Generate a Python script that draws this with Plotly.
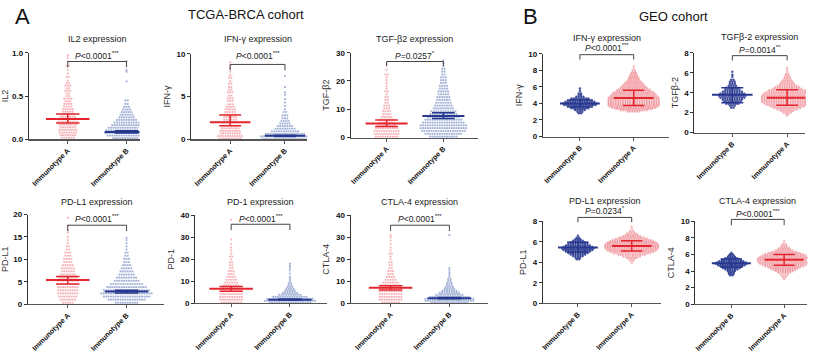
import numpy as np
import plotly.graph_objects as go

W, H = 824, 354
FONT = "Arial, Liberation Sans, sans-serif"

TCGA_CATS = ["Immunotype A", "Immunotype B"]
GEO_CATS = ["Immunotype B", "Immunotype A"]

IL2_A_LEVELS = [0.02,0.05,0.08,0.11,0.14,0.17,0.20,0.23,0.26,0.29,0.32,0.35,0.38,0.41,0.44,0.47,0.50,0.53,0.56,0.59,0.62,0.65,0.68,0.72,0.76,0.80,0.85,0.90,0.94,0.97]
IL2_A_COUNTS = [6,7,8,8,7,8,9,8,7,6,5,5,4,4,3,4,2,2,3,2,3,2,1,2,1,1,2,1,1,1]
IL2_B_LEVELS = [0.015,0.045,0.075,0.105,0.135,0.165,0.195,0.225,0.255,0.285,0.315,0.345,0.375,0.41,0.45,0.67,0.78,0.80,0.90]
IL2_B_COUNTS = [12,17,19,18,16,13,11,9,7,6,5,4,3,2,2,1,1,1,1]
IL2_MEAN = [0.235, 0.085]
IL2_LOW = [0.19, 0.075]
IL2_HIGH = [0.295, 0.10]

IFN_A_LEVELS = [0.1,0.4,0.7,1.0,1.3,1.6,2.0,2.3,2.6,2.9,3.2,3.5,3.8,4.1,4.5,4.8,5.1,5.5,5.8,6.1,6.5,6.8,7.2,7.5,7.9,8.3,8.6,9.0]
IFN_A_COUNTS = [10,11,9,9,8,8,7,6,6,5,5,5,4,3,3,3,2,3,2,2,2,1,2,1,1,1,1,1]
IFN_B_LEVELS = [0.05,0.35,0.65,0.95,1.25,1.55,1.85,2.15,2.45,2.8,3.2,3.5,3.9,4.3,4.7,5.2,5.5,6.1,7.4]
IFN_B_COUNTS = [20,21,17,12,9,7,5,4,3,3,2,1,1,1,1,1,1,1,1]
IFN_MEAN = [2.0, 0.42]
IFN_LOW = [1.6, 0.35]
IFN_HIGH = [2.85, 0.5]

TGF_A_LEVELS = [0.3,1.3,2.3,3.3,4.3,5.3,6.3,7.3,8.3,9.3,10.3,11.3,12.3,13.3,14.3,15.3,16.3,17.3,18.3,19.3,20.3,21.3,22.3,24,26]
TGF_A_COUNTS = [10,11,11,10,8,7,6,5,4,4,3,3,2,2,2,1,2,1,1,1,1,1,2,1,1]
TGF_B_LEVELS = [0.3,1.3,2.3,3.3,4.3,5.3,6.3,7.3,8.3,9.3,10.3,11.3,12.3,13.3,14.3,15.3,16.3,17.3,18.3,19.3,20.3,21.3,22.3,23.3,24.3,25.3,26.3,27.3]
TGF_B_COUNTS = [12,16,19,20,20,18,16,14,12,11,9,8,7,6,6,5,5,4,4,3,3,3,2,2,2,1,1,1]
TGF_MEAN = [5.0, 7.6]
TGF_LOW = [3.9, 6.7]
TGF_HIGH = [6.2, 8.8]

PDL1_A_LEVELS = [0.3,1.0,1.7,2.4,3.1,3.8,4.5,5.2,5.9,6.6,7.3,8.0,8.7,9.4,10.1,10.8,11.5,12.2,12.9,13.6,14.3,15.0,16.0,16.6,17.5,19.3]
PDL1_A_COUNTS = [5,7,8,9,9,9,9,9,8,7,6,6,5,4,4,3,3,2,2,1,1,1,1,1,1,1]
PDL1_B_LEVELS = [0.3,1.0,1.7,2.4,3.1,3.8,4.5,5.2,5.9,6.6,7.3,8.0,8.7,9.4,10.1,10.8,11.5,12.2,12.9,13.6,14.3,14.8]
PDL1_B_COUNTS = [10,16,20,22,20,17,14,11,9,7,6,5,4,3,3,2,2,1,1,1,1,1]
PDL1_MEAN = [5.4, 2.8]
PDL1_LOW = [4.5, 2.5]
PDL1_HIGH = [6.2, 3.1]

PD1_A_LEVELS = [0.3,1.6,2.9,4.2,5.5,6.8,8.1,9.4,10.7,12.0,13.3,14.6,16.0,17.3,18.6,20.0,21.3,22.6,24.0,25.3,27.0,29.0,38.0]
PD1_A_COUNTS = [9,10,10,10,9,8,7,6,5,4,3,3,2,2,2,1,2,1,1,1,1,1,1]
PD1_B_LEVELS = [0.2,1.1,2.0,2.9,3.8,4.7,5.6,6.5,7.4,8.3,9.2,10.1,11.0,12.0,13.5,15.0,16.0,17.0,18.0]
PD1_B_COUNTS = [18,22,20,15,10,7,5,4,3,2,2,1,1,1,1,1,1,1,1]
PD1_MEAN = [6.6, 1.6]
PD1_LOW = [5.5, 1.4]
PD1_HIGH = [7.6, 1.9]

CTLA_A_LEVELS = [0.3,1.6,2.9,4.2,5.5,6.8,8.1,9.4,10.7,12.0,13.3,14.6,16.0,17.3,18.6,20.0,21.3,22.6,24.0,25.3,27.0,28.5,30.0,31.0]
CTLA_A_COUNTS = [8,10,10,10,10,10,8,7,5,4,3,3,2,2,2,1,1,2,1,1,1,1,1,1]
CTLA_B_LEVELS = [0.2,1.1,2.0,2.9,3.8,4.7,5.6,6.5,7.4,8.3,9.2,10.1,11.0,12.0,13.0,14.0,15.0,16.0,31.0]
CTLA_B_COUNTS = [16,21,21,17,12,9,7,5,4,3,3,2,2,1,1,1,1,1,1]
CTLA_MEAN = [7.0, 2.3]
CTLA_LOW = [6.0, 2.0]
CTLA_HIGH = [8.0, 2.6]

GIFN_B_LEVELS = [2.8,3.0,3.2,3.4,3.6,3.8,4.0,4.2,4.4,4.6,4.8,5.0,5.2,5.5,5.8]
GIFN_B_COUNTS = [2,3,5,8,11,14,15,13,11,8,4,2,2,1,1]
GIFN_A_LEVELS = [3.0,3.15,3.3,3.45,3.6,3.75,3.9,4.05,4.2,4.35,4.5,4.65,4.8,4.95,5.1,5.25,5.4,5.55,5.7,5.85,6.0,6.15,6.3,6.45,6.6,6.75,6.9,7.05,7.2,7.35,7.5,7.65,7.8,8.0,8.2,8.5]
GIFN_A_COUNTS = [6,12,16,19,21,22,22,22,22,22,22,22,21,20,19,18,17,15,14,12,11,10,9,8,7,6,5,5,4,4,3,3,2,2,1,1]
GIFN_MEAN = [4.0, 4.65]
GIFN_LOW = [3.6, 3.75]
GIFN_HIGH = [4.4, 5.6]

GTGF_B_LEVELS = [2.5,2.7,2.9,3.1,3.3,3.5,3.7,3.9,4.1,4.3,4.5,4.7,4.9,5.1,5.3,5.6,5.8,6.1]
GTGF_B_COUNTS = [2,3,6,8,9,11,12,11,9,7,6,4,3,3,2,1,1,1]
GTGF_A_LEVELS = [1.7,1.85,2.0,2.15,2.3,2.45,2.6,2.75,2.9,3.05,3.2,3.35,3.5,3.65,3.8,3.95,4.1,4.25,4.4,4.55,4.7,4.85,5.0,5.15,5.3,5.45,5.6,5.75,5.9,6.1,6.3,6.5]
GTGF_A_COUNTS = [1,2,4,6,9,12,15,18,20,22,22,22,22,22,21,20,18,16,13,11,9,7,6,5,4,3,3,2,2,1,1,1]
GTGF_MEAN = [3.8, 3.5]
GTGF_LOW = [3.0, 2.75]
GTGF_HIGH = [4.5, 4.3]

GPDL1_B_LEVELS = [4.3,4.45,4.6,4.75,4.9,5.05,5.2,5.35,5.5,5.65,5.8,5.95,6.1,6.25,6.4,6.6]
GPDL1_B_COUNTS = [2,3,5,7,9,11,13,14,13,11,9,7,5,3,2,1]
GPDL1_A_LEVELS = [3.9,4.1,4.25,4.4,4.55,4.7,4.85,5.0,5.12,5.24,5.36,5.48,5.6,5.72,5.84,5.96,6.08,6.2,6.32,6.44,6.56,6.68,6.8,6.95,7.1,7.3,7.5]
GPDL1_A_COUNTS = [1,2,3,5,8,12,16,19,21,22,23,23,23,23,22,21,19,17,14,11,8,6,5,3,2,1,1]
GPDL1_MEAN = [5.45, 5.6]
GPDL1_LOW = [5.0, 5.1]
GPDL1_HIGH = [5.95, 6.1]

GCTLA_B_LEVELS = [3.5,3.67,3.84,4.0,4.2,4.37,4.54,4.7,4.87,5.04,5.2,5.37,5.54,5.7,5.87,6.04,6.2]
GCTLA_B_COUNTS = [2,3,3,4,6,8,10,12,14,13,11,9,6,4,3,2,1]
GCTLA_A_LEVELS = [3.0,3.2,3.4,3.6,3.8,3.95,4.1,4.25,4.4,4.55,4.7,4.85,5.0,5.15,5.3,5.45,5.6,5.75,5.9,6.05,6.2,6.35,6.5,6.65,6.8,6.95,7.1,7.3,7.6]
GCTLA_A_COUNTS = [1,2,3,4,6,8,10,12,14,17,19,21,22,23,23,23,22,21,19,17,14,11,8,6,5,3,3,2,1]
GCTLA_MEAN = [4.95, 5.35]
GCTLA_LOW = [4.45, 4.7]
GCTLA_HIGH = [5.45, 6.0]

PANEL_TITLES = ["IL2 expression", "IFN-γ expression", "TGF-β2 expression",
                "PD-L1 expression", "PD-1 expression", "CTLA-4 expression",
                "IFN-γ expression", "TGFβ-2 expression", "PD-L1 expression", "CTLA-4 expression"]
Y_TITLES = ["IL2", "IFN-γ", "TGF-β2", "PD-L1", "PD-1", "CTLA-4", "IFN-γ", "TGFβ-2", "PD-L1", "CTLA-4"]
P_TEXTS = ["<0.0001***", "<0.0001***", "=0.0257*", "<0.0001***", "<0.0001***", "<0.0001***",
           "<0.0001***", "=0.0014**", "=0.0234*", "<0.0001***"]
Y_MAX = [1.0, 10, 30, 20, 40, 40, 10, 8, 8, 10]
Y_DTICK = [0.5, 5, 10, 5, 10, 10, 2, 2, 2, 2]

# ---------------- layout constants (pixels) ----------------
# (y-axis x, x-axis end, category0 x, category1 x, top y, bottom y)
BOXES = [
    (26, 137, 65, 124, 50, 139),
    (189, 305, 228, 283, 51, 139),
    (349, 477, 385, 442, 50, 137),
    (25, 162, 65, 124, 216, 308),
    (193, 325, 229, 288, 217, 307),
    (349, 487, 389, 448, 217, 307),
    (542, 668, 579, 633, 51, 136),
    (694, 805, 732, 787, 50, 132),
    (542, 660, 577, 631, 223, 307),
    (695, 807, 731, 784, 223, 308),
]
TITLE_Y = [36, 36, 36, 203, 203, 203, 35, 34, 202, 202]
# (text y, bracket y, drop y)
BRACKETS = [
    (53, 59, 65), (53, 62, 68), (53, 59, 64),
    (220, 227, 233), (220, 226, 232), (220, 227, 233),
    (45, 52, 57), (47, 53, 58), (212, 219, 224), (215, 221, 227),
]

RED = "#e3262e"
BLUE = "#27388f"
PT_TCGA_A = "rgba(238,110,120,0.5)"
PT_TCGA_B = "rgba(80,108,178,0.5)"
PT_GEO_B = "rgba(35,50,140,0.85)"
PT_GEO_A = "rgba(232,80,92,0.42)"

groups = [
    [(IL2_A_LEVELS, IL2_A_COUNTS), (IL2_B_LEVELS, IL2_B_COUNTS)],
    [(IFN_A_LEVELS, IFN_A_COUNTS), (IFN_B_LEVELS, IFN_B_COUNTS)],
    [(TGF_A_LEVELS, TGF_A_COUNTS), (TGF_B_LEVELS, TGF_B_COUNTS)],
    [(PDL1_A_LEVELS, PDL1_A_COUNTS), (PDL1_B_LEVELS, PDL1_B_COUNTS)],
    [(PD1_A_LEVELS, PD1_A_COUNTS), (PD1_B_LEVELS, PD1_B_COUNTS)],
    [(CTLA_A_LEVELS, CTLA_A_COUNTS), (CTLA_B_LEVELS, CTLA_B_COUNTS)],
    [(GIFN_B_LEVELS, GIFN_B_COUNTS), (GIFN_A_LEVELS, GIFN_A_COUNTS)],
    [(GTGF_B_LEVELS, GTGF_B_COUNTS), (GTGF_A_LEVELS, GTGF_A_COUNTS)],
    [(GPDL1_B_LEVELS, GPDL1_B_COUNTS), (GPDL1_A_LEVELS, GPDL1_A_COUNTS)],
    [(GCTLA_B_LEVELS, GCTLA_B_COUNTS), (GCTLA_A_LEVELS, GCTLA_A_COUNTS)],
]
stats = [
    (IL2_MEAN, IL2_LOW, IL2_HIGH), (IFN_MEAN, IFN_LOW, IFN_HIGH), (TGF_MEAN, TGF_LOW, TGF_HIGH),
    (PDL1_MEAN, PDL1_LOW, PDL1_HIGH), (PD1_MEAN, PD1_LOW, PD1_HIGH), (CTLA_MEAN, CTLA_LOW, CTLA_HIGH),
    (GIFN_MEAN, GIFN_LOW, GIFN_HIGH), (GTGF_MEAN, GTGF_LOW, GTGF_HIGH),
    (GPDL1_MEAN, GPDL1_LOW, GPDL1_HIGH), (GCTLA_MEAN, GCTLA_LOW, GCTLA_HIGH),
]


def p_label(s):
    stars = s[len(s.rstrip("*")):]
    body = s.rstrip("*").replace("<", "&lt;")
    return "<i>P</i>" + body + "<sup>" + stars + "</sup>"


fig = go.Figure()
shapes = []
annotations = []
DX_PX = 2.4

for i in range(10):
    n = i + 1
    xa = "x" if n == 1 else f"x{n}"
    ya = "y" if n == 1 else f"y{n}"
    ax0, ax1, c0, c1, top, bot = BOXES[i]
    scale = c1 - c0
    xr = [(ax0 - c0) / scale, (ax1 - c0) / scale]
    geo = i >= 6
    cats = GEO_CATS if geo else TCGA_CATS
    if geo:
        pcols = [PT_GEO_B, PT_GEO_A]
        lcols = [BLUE, RED]
        msz = [2.4, 2.2]
    else:
        pcols = [PT_TCGA_A, PT_TCGA_B]
        lcols = [RED, BLUE]
        msz = [2.2, 2.2]

    for g, (levels, counts) in enumerate(groups[i]):
        xs, ys = [], []
        for lv, ct in zip(levels, counts):
            for k in range(ct):
                xs.append(g + (k - (ct - 1) / 2) * DX_PX / scale)
                ys.append(lv)
        fig.add_trace(go.Scatter(x=xs, y=ys, mode="markers", xaxis=xa, yaxis=ya,
                                 marker=dict(size=msz[g], color=pcols[g], line=dict(width=0)),
                                 cliponaxis=False, showlegend=False, hoverinfo="skip"))
        m, lo, hi = stats[i][0][g], stats[i][1][g], stats[i][2][g]
        hw, cw = 0.37, 0.2
        fig.add_trace(go.Scatter(x=[g - hw, g + hw], y=[m, m], mode="lines", xaxis=xa, yaxis=ya,
                                 line=dict(color=lcols[g], width=2), showlegend=False, hoverinfo="skip"))
        fig.add_trace(go.Scatter(x=[g, g, None, g - cw, g + cw, None, g - cw, g + cw],
                                 y=[lo, hi, None, lo, lo, None, hi, hi], mode="lines",
                                 xaxis=xa, yaxis=ya, line=dict(color=lcols[g], width=1.5),
                                 showlegend=False, hoverinfo="skip"))

    xkey = "xaxis" if n == 1 else f"xaxis{n}"
    ykey = "yaxis" if n == 1 else f"yaxis{n}"
    fig.update_layout(**{
        xkey: dict(domain=[ax0 / W, ax1 / W], range=xr, anchor=ya, tickvals=[0, 1], ticktext=cats,
                   tickangle=-45, showline=True, linecolor="#555", linewidth=1.3, ticks="outside",
                   ticklen=3, tickcolor="#555", showgrid=False, zeroline=False,
                   tickfont=dict(size=7.2, family=FONT, color="#111", weight="bold")),
        ykey: dict(domain=[1 - bot / H, 1 - top / H], range=[0, Y_MAX[i]], anchor=xa, dtick=Y_DTICK[i],
                   tickformat=".1f" if i == 0 else "d", showline=True, linecolor="#333", linewidth=1.2,
                   ticks="outside", ticklen=3, tickcolor="#333", showgrid=False, zeroline=False,
                   tickfont=dict(size=8, family=FONT, color="#111", weight="bold"),
                   title=dict(text=Y_TITLES[i], font=dict(size=9, family=FONT, color="#333"), standoff=4)),
    })

    # bracket and p-value (in axis-domain coordinates)
    ty, by, dy = BRACKETS[i]
    d0 = (0 - xr[0]) / (xr[1] - xr[0])
    d1 = (1 - xr[0]) / (xr[1] - xr[0])
    fy = lambda py: (bot - py) / (bot - top)
    for (xx0, yy0, xx1, yy1) in [(d0, fy(by), d1, fy(by)), (d0, fy(by), d0, fy(dy)), (d1, fy(by), d1, fy(dy))]:
        shapes.append(dict(type="line", xref=f"{xa} domain", yref=f"{ya} domain",
                           x0=xx0, y0=yy0, x1=xx1, y1=yy1, line=dict(color="#444", width=1)))
    annotations.append(dict(xref=f"{xa} domain", yref=f"{ya} domain", x=(d0 + d1) / 2, y=fy(ty),
                            text=p_label(P_TEXTS[i]),
                            showarrow=False, xanchor="center", yanchor="middle",
                            font=dict(size=8.5, family=FONT, color="#222")))
    # panel title
    annotations.append(dict(xref="paper", yref="paper", x=((c0 + c1) / 2) / W, y=1 - TITLE_Y[i] / H,
                            text=PANEL_TITLES[i], showarrow=False, xanchor="center", yanchor="middle",
                            font=dict(size=9, family=FONT, color="#222")))

for txt, px, py, sz in [("A", 20, 13, 22), ("TCGA-BRCA cohort", 244, 11, 13),
                        ("B", 529, 13, 22), ("GEO cohort", 673, 13, 13)]:
    annotations.append(dict(xref="paper", yref="paper", x=px / W, y=1 - py / H, text=txt,
                            showarrow=False, xanchor="center", yanchor="middle",
                            font=dict(size=sz, family=FONT, color="#111")))

fig.update_layout(width=W, height=H, margin=dict(l=0, r=0, t=0, b=0),
                  paper_bgcolor="white", plot_bgcolor="white",
                  shapes=shapes, annotations=annotations, showlegend=False,
                  font=dict(family=FONT))
fig.write_html("out.html", config={"displayModeBar": False, "staticPlot": True},
               post_script="document.body.style.margin='0';document.body.style.padding='0';")
